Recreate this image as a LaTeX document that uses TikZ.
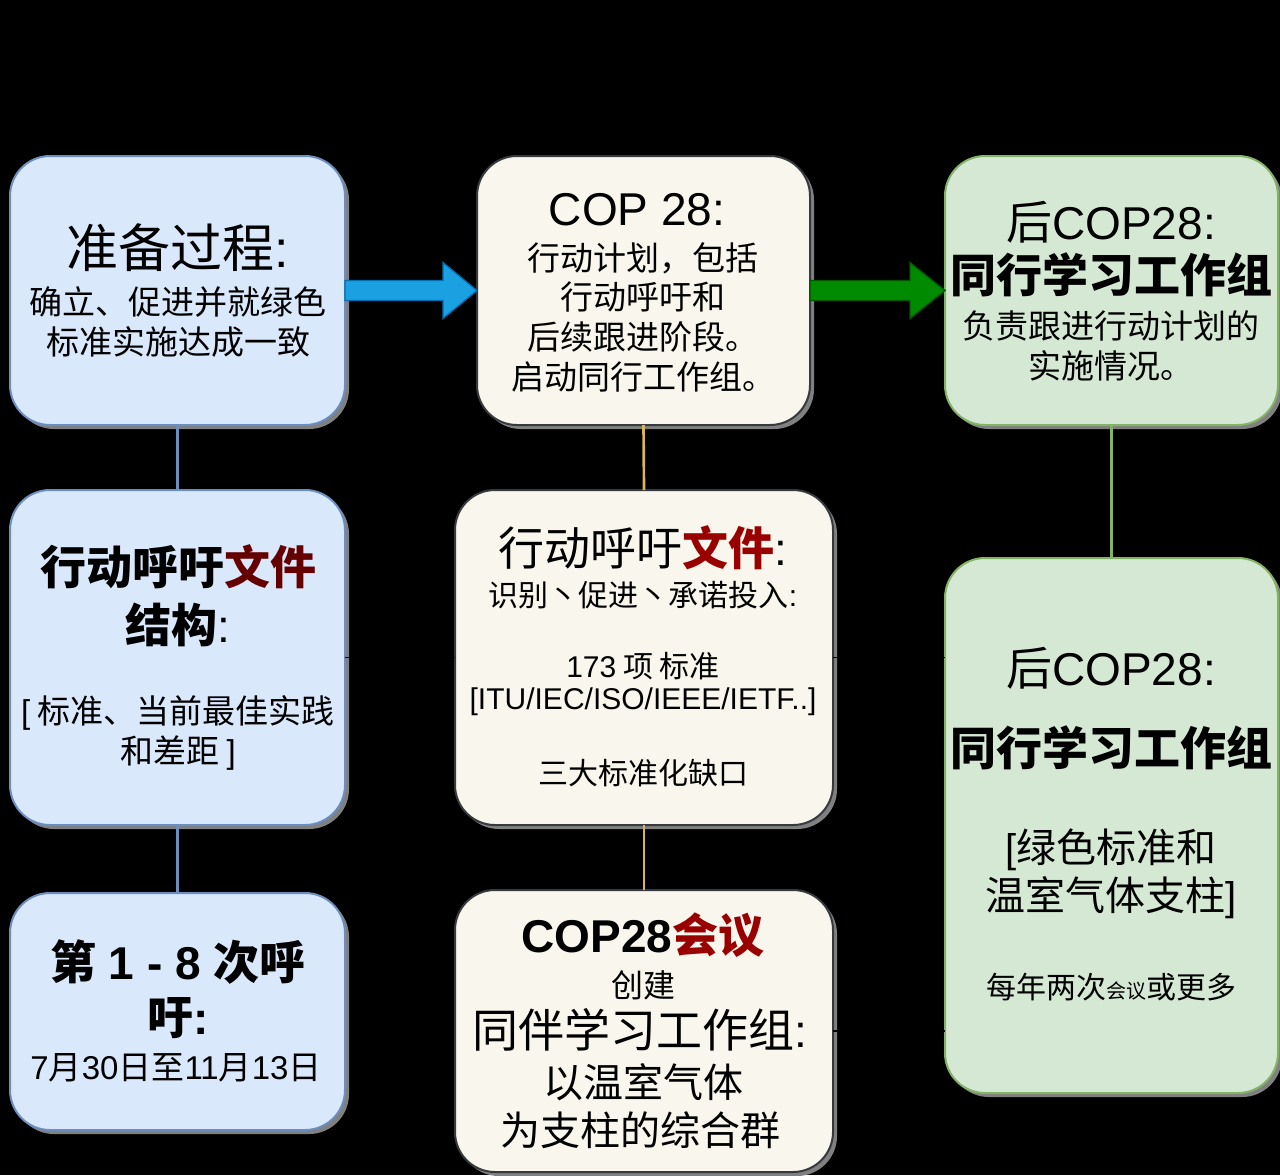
\documentclass[tikz,border=0pt]{standalone}
\usepackage{fontspec}
\setmainfont{Noto Sans CJK SC}
\newfontfamily\latfont{Liberation Sans}
\usetikzlibrary{shadows,arrows.meta}
\definecolor{bluefill}{HTML}{DAE8FC}
\definecolor{blueline}{HTML}{6C8EBF}
\definecolor{yelfill}{HTML}{F9F7ED}
\definecolor{yelline}{HTML}{36393D}
\definecolor{tanline}{HTML}{D6B656}
\definecolor{grnfill}{HTML}{D5E8D4}
\definecolor{grnline}{HTML}{82B366}
\definecolor{arrblue}{HTML}{1BA1E2}
\definecolor{arrblueb}{HTML}{006EAF}
\definecolor{arrgrn}{HTML}{008A00}
\definecolor{arrgrnb}{HTML}{005700}
\definecolor{darkred}{HTML}{660000}
\definecolor{midred}{HTML}{990000}
\newcommand\fpx[1]{\fontsize{\the\dimexpr #1pt*3/4\relax}{\the\dimexpr #1pt*9/10\relax}\selectfont}
\newcommand\latn[1]{{\latfont #1}}
\newcommand\boxat[6]{\node[#2, minimum width={(#5-#3)*0.75pt}, minimum height={(#6-#4)*0.75pt}] (#1) at ({(#3+#5)/2},{(#4+#6)/2}) {};}
\begin{document}
\begin{tikzpicture}[x=0.75pt,y=-0.75pt,
  basebox/.style={rectangle, rounded corners=30pt, line width=1.5pt, inner sep=0pt, outer sep=0pt,
    drop shadow={shadow xshift=3pt, shadow yshift=-3pt, fill=gray, opacity=1}},
  bluebox/.style={basebox, fill=bluefill, draw=blueline},
  yelbox/.style={basebox, fill=yelfill, draw=yelline},
  grnbox/.style={basebox, fill=grnfill, draw=grnline},
  txt/.style={inner sep=0pt, anchor=center, text=black},
  link/.style={line width=2pt},
  blackline/.style={draw=black, line width=1pt},
  bluearrow/.style={fill=arrblue, draw=arrblueb, line width=1pt},
  grnarrow/.style={fill=arrgrn, draw=arrgrnb, line width=1pt}]
\fill[black] (0,0) rectangle (1280,1175);
\useasboundingbox (0,0) rectangle (1280,1175);

% boxes
\boxat{a1}{bluebox}{10}{156}{345}{425}
\boxat{a2}{bluebox}{10}{490}{345}{825}
\boxat{a3}{bluebox}{10}{893}{345}{1130}
\boxat{b1}{yelbox}{477}{156}{810}{425}
\boxat{b2}{yelbox}{455}{490}{833}{825}
\boxat{b3}{yelbox}{455}{890}{833}{1172}
\boxat{c1}{grnbox}{945}{156}{1278}{425}
\boxat{c2}{grnbox}{945}{558}{1278}{1093}

% vertical connectors
\draw[link, blueline] (a1.south) -- (a2.north);
\draw[link, blueline] (a2.south) -- (a3.north);
\draw[link, tanline] (b1.south) -- (b2.north);
\draw[link, tanline] (b2.south) -- (b3.north);
\draw[link, grnline] (c1.south) -- (c2.north);

% black connectors
\draw[blackline, -{Stealth[length=7pt,width=6pt]}] (a2.east) -- (b2.west);
\draw[blackline] (b2.east) -- (c2.west |- b2.east);
\draw[blackline] (b3.east) -- (c2.west |- b3.east);

% block arrows
\draw[bluearrow] (a1.east) ++(0,-10) -- ++(98,0) -- ++(0,-18) -- ++(34,28) -- ++(-34,28) -- ++(0,-18) -- ++(-98,0) -- cycle;
\draw[grnarrow] (b1.east) ++(0,-10) -- ++(100,0) -- ++(0,-18) -- ++(35,28) -- ++(-35,28) -- ++(0,-18) -- ++(-100,0) -- cycle;

% A1 text
\node[txt] (a1t1) at (178,248) {\fpx{52}准备过程\latn{:}};
\node[txt] (a1t2) at (178,302) {\fpx{33}确立、促进并就绿色};
\node[txt] (a1t3) at (178,342) {\fpx{33}标准实施达成一致};

% B1 text
\node[txt] (b1t1) at (637,210) {\fpx{46}\latn{COP 28:}};
\node[txt] (b1t2) at (643,258) {\fpx{33}行动计划，包括};
\node[txt] (b1t3) at (643,297) {\fpx{33}行动呼吁和};
\node[txt] (b1t4) at (643,337) {\fpx{33}后续跟进阶段。};
\node[txt] (b1t5) at (643,377) {\fpx{33}启动同行工作组。};

% C1 text
\node[txt] (c1t1) at (1111,222) {\fpx{46}后\latn{COP28:}};
\node[txt] (c1t2) at (1111,275) {\fpx{46}\bfseries 同行学习工作组};
\node[txt] (c1t3) at (1111,326) {\fpx{33}负责跟进行动计划的};
\node[txt] (c1t4) at (1111,366) {\fpx{33}实施情况。};

% A2 text
\node[txt] (a2t1) at (178,567) {\fpx{46}\bfseries 行动呼吁\textcolor{darkred}{文件}};
\node[txt] (a2t2) at (178,625) {\fpx{46}{\bfseries 结构}\latn{:}};
\node[txt] (a2t3) at (178,713) {\fpx{33}\latn{[} 标准、当前最佳实践};
\node[txt] (a2t4) at (178,753) {\fpx{33}和差距 \latn{]}};

% B2 text
\node[txt] (b2t1) at (643,548) {\fpx{46}行动呼吁{\bfseries\textcolor{midred}{文件}}\latn{:}};
\node[txt] (b2t2) at (643,595) {\fpx{30}识别丶促进丶承诺投入\latn{:}};
\node[txt] (b2t3) at (643,666) {\fpx{30}\latn{173} 项 标准};
\node[txt] (b2t4) at (643,702) {\fpx{30}\latn{[ITU/IEC/ISO/IEEE/IETF..]}};
\node[txt] (b2t5) at (643,773) {\fpx{30}三大标准化缺口};

% A3 text
\node[txt] (a3t1) at (178,962) {\fpx{46}\bfseries 第\latn{ 1 - 8 }次呼};
\node[txt] (a3t2) at (178,1018) {\fpx{46}\bfseries 吁\latn{:}};
\node[txt] (a3t3) at (176,1068) {\fpx{33}\latn{7}月\latn{30}日至\latn{11}月\latn{13}日};

% B3 text
\node[txt] (b3t1) at (643,935) {\fpx{46}\bfseries\latn{COP28}\textcolor{midred}{会议}};
\node[txt] (b3t2) at (643,985) {\fpx{32}创建};
\node[txt] (b3t3) at (640,1030) {\fpx{46}同伴学习工作组\latn{:}};
\node[txt] (b3t4) at (643,1082) {\fpx{40}以温室气体};
\node[txt] (b3t5) at (640,1130) {\fpx{40}为支柱的综合群};

% C2 text
\node[txt] (c2t1) at (1111,668) {\fpx{46}后\latn{COP28:}};
\node[txt] (c2t2) at (1111,748) {\fpx{46}\bfseries 同行学习工作组};
\node[txt] (c2t3) at (1111,850) {\fpx{40}\latn{[}绿色标准和};
\node[txt] (c2t4) at (1111,898) {\fpx{40}温室气体支柱\latn{]}};
\node[txt] (c2t5) at (1111,987) {\fpx{30}每年两次{\fpx{20}会议}或更多};
\end{tikzpicture}
\end{document}
